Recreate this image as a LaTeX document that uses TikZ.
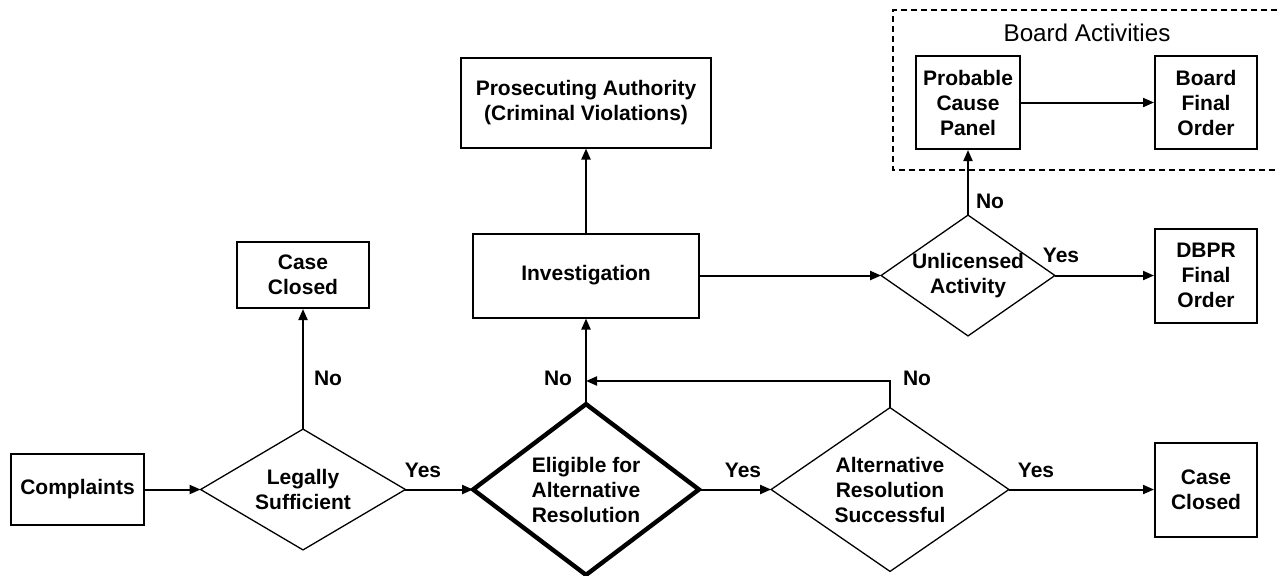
\documentclass[tikz,border=0pt]{standalone}
\usepackage{fontspec}
\setmainfont{Liberation Sans}
\usetikzlibrary{arrows.meta}
\begin{document}
\begin{tikzpicture}[x=0.5pt,y=-0.5pt,
  font=\fontsize{10.5}{12.5}\selectfont\bfseries,
  box/.style={draw,line width=1pt,align=center,inner sep=0pt},
  dmd/.style={align=center,inner sep=0pt},
  dline/.style={line width=0.65pt,line join=miter},
  dbold/.style={line width=2.2pt,line join=miter},
  arr/.style={line width=1pt,-{Triangle[length=5.5pt,width=4.5pt]}},
  lbl/.style={inner sep=0pt}]
\useasboundingbox (0,0) rectangle (1277,575);
% boxes
\node[box,minimum width=66.5pt,minimum height=35.5pt] (comp) at (77.5,489.5) {Complaints};
\node[box,minimum width=66pt,minimum height=33pt] (cc1) at (303,275) {Case\\Closed};
\node[box,minimum width=51pt,minimum height=47pt] (cc2) at (1206,489.5) {Case\\Closed};
\node[box,minimum width=113pt,minimum height=42pt] (inv) at (586,275.5) {Investigation};
\node[box,minimum width=125pt,minimum height=45pt] (pros) at (586,102.5) {Prosecuting Authority\\(Criminal Violations)};
\node[box,minimum width=51pt,minimum height=47pt] (dbpr) at (1206,275.5) {DBPR\\Final\\Order};
\node[box,minimum width=52pt,minimum height=46.5pt] (pcp) at (968,102.5) {Probable\\Cause\\Panel};
\node[box,minimum width=51pt,minimum height=46.5pt] (bfo) at (1206,102.5) {Board\\Final\\Order};
% diamonds
\node[dmd,minimum width=102pt,minimum height=60pt] (legal) at (303,489.5) {Legally\\Sufficient};
\draw[dline] (legal.north) -- (legal.east) -- (legal.south) -- (legal.west) -- cycle;
\node[dmd,minimum width=112.5pt,minimum height=85pt] (elig) at (586,489.5) {Eligible for\\Alternative\\Resolution};
\draw[dbold] (elig.north) -- (elig.east) -- (elig.south) -- (elig.west) -- cycle;
\node[dmd,minimum width=118.5pt,minimum height=81.5pt] (alt) at (890,489.5) {Alternative\\Resolution\\Successful};
\draw[dline] (alt.north) -- (alt.east) -- (alt.south) -- (alt.west) -- cycle;
\node[dmd,minimum width=86.5pt,minimum height=60pt] (unl) at (968,275.5) {Unlicensed\\Activity};
\draw[dline] (unl.north) -- (unl.east) -- (unl.south) -- (unl.west) -- cycle;
% dashed group
\draw[line width=0.6pt,dash pattern=on 3pt off 2pt] (1277,10) -- (893,10) -- (893,170) -- (1277,170);
\node[font=\fontsize{12.1}{14}\selectfont,inner sep=0pt] (title) at (1087,33) {Board Activities};
% connectors
\draw[arr] (comp.east) -- (legal.west);
\draw[arr] (legal.east) -- (elig.west);
\draw[arr] (elig.east) -- (alt.west);
\draw[arr] (alt.east) -- (cc2.west);
\draw[arr] (legal.north) -- (cc1.south);
\draw[arr] (elig.north) -- (inv.south);
\draw[arr] (inv.north) -- (pros.south);
\draw[arr] (inv.east) -- (unl.west);
\draw[arr] (unl.east) -- (dbpr.west);
\draw[arr] (unl.north) -- (pcp.south);
\draw[arr] (pcp.east) -- (bfo.west);
\coordinate (lp) at (890,381);
\draw[arr] (alt.north) -- (lp) -- (elig.north |- lp);
% labels
\node[lbl] (yes1) at (423,470) {Yes};
\node[lbl] (yes2) at (743,470) {Yes};
\node[lbl] (yes3) at (1036,470) {Yes};
\node[lbl] (yes4) at (1061,255) {Yes};
\node[lbl] (no1) at (328,378) {No};
\node[lbl] (no2) at (558,378) {No};
\node[lbl] (no3) at (917,378) {No};
\node[lbl] (no4) at (990,201) {No};
\end{tikzpicture}
\end{document}
